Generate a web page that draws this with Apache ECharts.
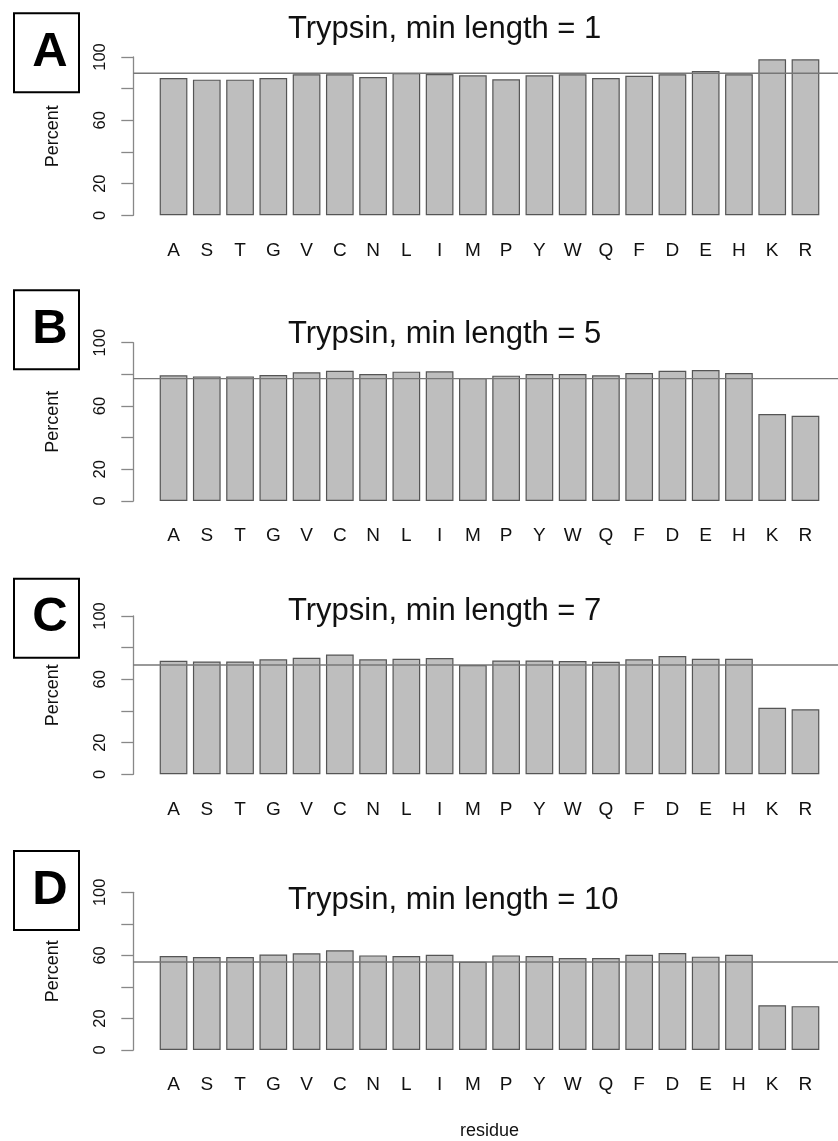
<!DOCTYPE html>
<html>
<head>
<meta charset="utf-8">
<title>Trypsin cleavage by residue</title>
<script src="https://cdn.jsdelivr.net/npm/echarts@6/dist/echarts.min.js"></script>
<style>
  html, body { margin: 0; padding: 0; background: #ffffff; }
  #chart { width: 838px; height: 1141px; }
</style>
</head>
<body>
<div id="chart"></div>
<script>
// Residues on the x axis
const residues = ['A','S','T','G','V','C','N','L','I','M','P','Y','W','Q','F','D','E','H','K','R'];

// Percent per residue, one array per minimum peptide length
const minLen1  = [86.7, 85.7, 85.7, 86.7, 89.1, 89.1, 87.4, 89.9, 89.3, 88.4, 85.9, 88.4, 89.1, 86.7, 88.2, 89.1, 91.2, 89.1, 98.5, 98.5];
const minLen5  = [79.4, 78.7, 78.7, 79.6, 81.3, 82.3, 80.2, 81.7, 81.9, 77.7, 79.2, 80.2, 80.2, 79.4, 80.8, 82.3, 82.7, 80.8, 54.9, 53.9];
const minLen7  = [71.7, 71.3, 71.3, 72.6, 73.6, 75.7, 72.6, 73.0, 73.4, 69.0, 71.9, 71.9, 71.5, 71.1, 72.6, 74.7, 73.0, 73.0, 42.0, 41.1];
const minLen10 = [59.6, 58.9, 58.9, 60.6, 61.3, 63.2, 60.0, 59.6, 60.4, 56.0, 60.0, 59.6, 58.3, 58.3, 60.4, 61.5, 59.2, 60.4, 28.4, 27.8];

// Overall reference level drawn as a horizontal line in each panel
const refLevels = [89.7, 77.3, 69.0, 56.0];

const minLengths = [1, 5, 7, 10];
const panelLetters = ['A', 'B', 'C', 'D'];
const seriesValues = [minLen1, minLen5, minLen7, minLen10];

// Y axis: ticks every 20, only some of them labelled
const yTickStep = 20;
const yLabelValues = [0, 20, 60, 100];

const FONT = "'Liberation Sans', Arial, Helvetica, sans-serif";

// Panel layout (pixels)
const plotTops   = [57, 342.7, 616, 892.3];
const plotHeight = 158.3;
const barLeft    = 156.9;
const barWidthPx = 665.2;
const axisX      = 133.3;
const titleTops  = [14, 318.7, 596.2, 884.5];
const boxTops    = [12.3, 289.3, 577.7, 850];

const chart = echarts.init(document.getElementById('chart'), null, { renderer: 'canvas' });

const grids = [], xAxes = [], yAxes = [], series = [], titles = [], graphics = [];

for (let p = 0; p < 4; p++) {
  // bar grid
  grids.push({ left: barLeft, top: plotTops[p], width: barWidthPx, height: plotHeight, containLabel: false });
  // reference-line grid, spanning from the y axis to the page edge
  grids.push({ left: axisX, top: plotTops[p], width: 720, height: plotHeight, containLabel: false });

  const gBar = p * 2, gRef = p * 2 + 1;

  xAxes.push({
    type: 'category', gridIndex: gBar, data: residues,
    axisLine: { show: false }, axisTick: { show: false },
    axisLabel: { fontSize: 19, color: '#111', fontFamily: FONT, margin: 25.5, interval: 0 },
    name: p === 3 ? 'residue' : '',
    nameLocation: 'middle', nameGap: 72,
    nameTextStyle: { fontSize: 18, color: '#111', fontFamily: FONT }
  });
  xAxes.push({ type: 'value', gridIndex: gRef, min: 0, max: 1, show: false });

  yAxes.push({
    type: 'value', gridIndex: gBar, min: 0, max: 100, interval: yTickStep,
    offset: barLeft - axisX,
    axisLine: { show: true, lineStyle: { color: '#888', width: 1.3 } },
    axisTick: { show: true, length: 12, lineStyle: { color: '#888', width: 1.3 } },
    splitLine: { show: false },
    axisLabel: {
      rotate: 90, fontSize: 16.5, color: '#111', fontFamily: FONT, margin: 24,
      formatter: v => (yLabelValues.includes(v) ? String(v) : '')
    },
    name: 'Percent', nameLocation: 'middle', nameGap: 71, nameRotate: 90,
    nameTextStyle: { fontSize: 18, color: '#111', fontFamily: FONT }
  });
  yAxes.push({ type: 'value', gridIndex: gRef, min: 0, max: 100, show: false });

  series.push({
    type: 'bar', xAxisIndex: gBar, yAxisIndex: gBar,
    data: seriesValues[p],
    barCategoryGap: '16.67%',
    itemStyle: { color: '#bebebe', borderColor: '#555', borderWidth: 1.2 },
    silent: true, animation: false, z: 2
  });
  series.push({
    type: 'line', xAxisIndex: gRef, yAxisIndex: gRef,
    data: [[0, refLevels[p]], [1, refLevels[p]]],
    symbol: 'none', lineStyle: { color: '#777', width: 1.4 },
    silent: true, animation: false, z: 5
  });

  titles.push({
    text: 'Trypsin, min length = ' + minLengths[p],
    left: 288, top: titleTops[p], padding: 0,
    textStyle: { fontSize: 31, fontWeight: 'normal', color: '#111', fontFamily: FONT }
  });

  // boxed panel letter
  graphics.push({
    type: 'rect', left: 13, top: boxTops[p],
    shape: { width: 65, height: 79 },
    style: { fill: '#fff', stroke: '#000', lineWidth: 2 }
  });
  graphics.push({
    type: 'text', x: 50, y: boxTops[p] + 40,
    style: {
      text: panelLetters[p], fontSize: 49, fontWeight: 'bold', fontFamily: FONT,
      fill: '#000', align: 'center', verticalAlign: 'middle'
    }
  });
}

chart.setOption({
  backgroundColor: '#ffffff',
  animation: false,
  title: titles,
  grid: grids,
  xAxis: xAxes,
  yAxis: yAxes,
  series: series,
  graphic: graphics
});
</script>
</body>
</html>
